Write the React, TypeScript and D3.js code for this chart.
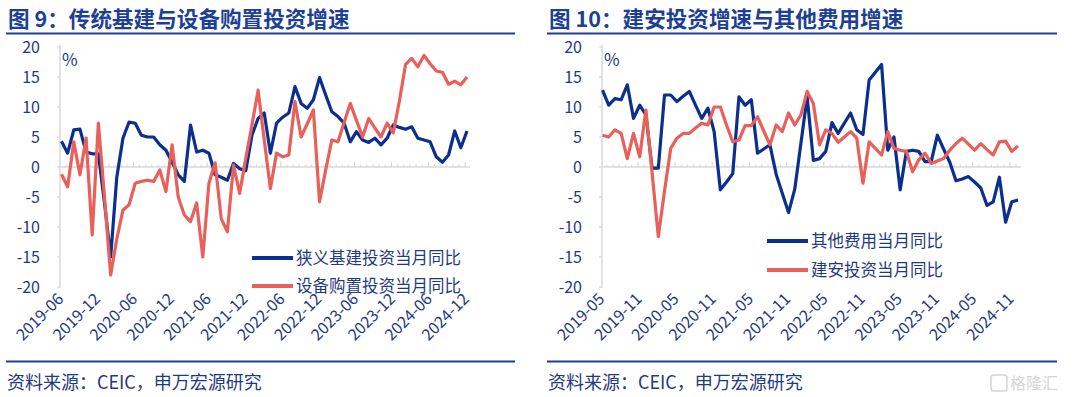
import React from 'react';
import * as d3 from 'd3';

// ---------- data ----------
const leftLabels = ['2019-06','2019-12','2020-06','2020-12','2021-06','2021-12','2022-06','2022-12','2023-06','2023-12','2024-06','2024-12'];
const rightLabels = ['2019-05','2019-11','2020-05','2020-11','2021-05','2021-11','2022-05','2022-11','2023-05','2023-11','2024-05','2024-11'];
const yTicks = [20, 15, 10, 5, 0, -5, -10, -15, -20];

// 狭义基建投资当月同比 (2019-06 .. 2024-12)
const infraYoY = [
  4.3, 2.3, 6.2, 6.3, 2.5, 2.2, 2.2, -6, -15, -1.7,
  4.8, 7.5, 7.3, 5.3, 5, 5, 3.7, 2.8, 0.8, -1.3,
  -2.4, 7, 2.5, 2.8, 2.3, -1.3, -1.7, -2.2, 0.6, -0.3,
  -0.6, 5.3, 8.1, 9, 2.3, 7.3, 8.3, 9, 13.4, 10.6,
  9.8, 11.2, 14.9, 12, 9.2, 8.4, 7.3, 4.2, 5.9, 4.5,
  4.1, 4.8, 3.7, 4.8, 7, 6.6, 6.3, 6.7, 4.8, 4.5,
  4.2, 1.7, 0.8, 2, 6, 3.2, 6,
];
// 设备购置投资当月同比 (2019-06 .. 2024-12)
const equipYoY = [
  -1.2, -3.3, 4.2, -1.3, 4.8, -11.3, 7.3, -5, -18, -12,
  -7.2, -6.3, -2.7, -2.4, -2.2, -2.4, -0.5, -4.1, 3.7, -5,
  -8, -9.1, -6, -15, -2.7, 0.7, -8.6, -10.8, 0.3, -4.4,
  1.5, 7, 12.8, 4.5, -3.6, 2.3, 1.7, 2, 10.9, 5,
  7.2, 9.5, -5.8, -0.5, 4.5, 4.2, 7.4, 10.6, 7.8, 5,
  8.1, 6.5, 5, 7.3, 5.7, 11, 17.1, 18.1, 16.7, 18.6,
  17.2, 16, 15.8, 13.8, 14.3, 13.7, 15,
];
// 其他费用当月同比 (2019-05 .. 2024-12)
const otherYoY = [
  12.8, 10.3, 11.4, 11.2, 13.7, 8.1, 10.3, 8.7, -0.2, -0.2,
  12, 12, 10.9, 11.8, 12.6, 10.3, 8.1, 9.8, 5.9, -3.8,
  -2.5, -1.1, 11.7, 10.3, 11.2, 2.3, 3, 3.7, -1.2, -4.4,
  -7.6, -3.7, 4, 11.7, 1.1, 1.4, 2.6, 7.4, 5.6, 7.3,
  9, 6.2, 5.4, 14.5, 15.8, 17.1, 2.8, 5, -3.8, 2.6,
  2.8, 2.6, 0.9, 0.9, 5.3, 3, 0.8, -2.3, -2, -1.6,
  -2.5, -3.5, -6.4, -5.8, -1.7, -9.2, -5.8, -5.5,
];
// 建安投资当月同比 (2019-05 .. 2024-12)
const constrYoY = [
  5.3, 5, 6.2, 5.6, 1.4, 5.6, 1.7, 9.5, -1, -11.6,
  -4, 3.1, 4.8, 5.6, 5.6, 6.5, 7.3, 7, 10, 10,
  7, 4.2, 4.5, 6.9, 6.9, 8.4, 6, 3.7, 7, 5.9,
  9, 7, 8.7, 12.6, 10.6, 3.7, 6.2, 5.6, 4.1, 5,
  5.9, 4.8, -2.7, 4.2, 3.1, 2, 5.9, 3.1, 2.8, 2.6,
  -0.8, 1.2, 2.3, 0.6, 1, 1.4, 2.8, 3.9, 4.8, 3.8,
  2.8, 3.9, 2.9, 2, 4.2, 4.3, 2.6, 3.5,
];

const BLUE = '#0a2f8f';
const RED = '#e95f5a';
const TEXT = '#1f3a85';
const TITLE = '#1d3f95';
const AXIS = '#d9d9d9';
const FONT = '"Noto Sans CJK SC", "Noto Sans", sans-serif';

interface Series { name: string; values: number[]; color: string; }

interface PanelProps {
  title: string;
  left: number;
  right: number;
  axisX: number;
  axisEnd: number;
  xStart: number;
  xEnd: number;
  labels: string[];
  series: Series[];
  legendX: number;
  legendY: number[];
}

const yScale = d3.scaleLinear().domain([-20, 20]).range([287, 47]);

function Panel(p: PanelProps) {
  const n = p.series[0].values.length;
  const x = d3.scaleLinear().domain([0, n - 1]).range([p.xStart, p.xEnd]);
  const y0 = yScale(0);
  const line = d3.line<number>().x((_, i) => x(i)).y((d) => yScale(d));
  const ticks: { pos: number; major: boolean }[] = [];
  for (let k = 0; k <= n; k++) {
    const pos = x(k - 0.3);
    if (pos > p.axisX + 1 && pos < p.axisEnd) ticks.push({ pos, major: k % 6 === 0 });
  }
  return (
    <g>
      <text x={p.left + 1} y={27} fontSize={21.6} fontWeight={700} fill={TITLE} fontFamily={FONT}>{p.title}</text>
      <line x1={p.left - 1} x2={p.right} y1={33.5} y2={33.5} stroke={TITLE} strokeWidth={2} />
      <line x1={p.axisX} x2={p.axisX} y1={45} y2={288} stroke={AXIS} strokeWidth={1.5} />
      {yTicks.map((t) => (
        <g key={t}>
          <line x1={p.axisX - 3} x2={p.axisX} y1={yScale(t)} y2={yScale(t)} stroke={AXIS} strokeWidth={1.2} />
          <text x={p.axisX - 20} y={yScale(t)} dy="0.36em" textAnchor="end" fontSize={16} fill={TEXT} fontFamily={FONT}>{t}</text>
        </g>
      ))}
      <text x={p.axisX + 2} y={66} fontSize={17} fill={TEXT} fontFamily={FONT}>%</text>
      <line x1={p.axisX} x2={p.axisEnd} y1={y0} y2={y0} stroke={AXIS} strokeWidth={1.5} />
      {ticks.map((t, i) => (
        <line key={i} x1={t.pos} x2={t.pos} y1={t.major ? y0 - 5 : y0 - 2.5} y2={y0} stroke={AXIS} strokeWidth={1.2} />
      ))}
      {p.labels.map((lab, i) => {
        const xx = x(i * 6) + 3;
        const yy = 300;
        return (
          <text key={lab} x={xx} y={yy} textAnchor="end" fontSize={16} fill={TEXT} fontFamily={FONT}
            transform={`rotate(-45 ${xx} ${yy})`}>{lab}</text>
        );
      })}
      {p.series.map((s) => (
        <path key={s.name} d={line(s.values) || ''} fill="none" stroke={s.color} strokeWidth={3.2} strokeLinejoin="round" />
      ))}
      {p.series.map((s, i) => (
        <g key={s.name}>
          <line x1={p.legendX} x2={p.legendX + 41} y1={p.legendY[i]} y2={p.legendY[i]} stroke={s.color} strokeWidth={4} />
          <text x={p.legendX + 44} y={p.legendY[i]} dy="0.36em" fontSize={16.5} fill={TEXT} fontFamily={FONT}>{s.name}</text>
        </g>
      ))}
      <line x1={p.left - 1} x2={p.right} y1={361.5} y2={361.5} stroke={TITLE} strokeWidth={2} />
      <text x={p.left} y={389} fontSize={18} fill={TEXT} fontFamily={FONT}>资料来源：CEIC，申万宏源研究</text>
    </g>
  );
}

export default function App() {
  return (
    <svg width={1080} height={397} style={{ position: 'absolute', left: 0, top: 0, background: '#fff' }}>
      <rect width={1080} height={397} fill="#fff" />
      <Panel
        title="图 9：传统基建与设备购置投资增速"
        left={7} right={515}
        axisX={60} axisEnd={470}
        xStart={61.5} xEnd={467}
        labels={leftLabels}
        series={[
          { name: '狭义基建投资当月同比', values: infraYoY, color: BLUE },
          { name: '设备购置投资当月同比', values: equipYoY, color: RED },
        ]}
        legendX={252} legendY={[258, 286]}
      />
      <Panel
        title="图 10：建安投资增速与其他费用增速"
        left={548} right={1057}
        axisX={602} axisEnd={1021}
        xStart={602.5} xEnd={1018}
        labels={rightLabels}
        series={[
          { name: '其他费用当月同比', values: otherYoY, color: BLUE },
          { name: '建安投资当月同比', values: constrYoY, color: RED },
        ]}
        legendX={767} legendY={[241, 270]}
      />
      <g opacity={0.35}>
        <rect x={991} y={375} width={16} height={16} rx={3} fill="none" stroke="#888" strokeWidth={1.5} />
        <text x={1010} y={389} fontSize={16} fill="#888" fontFamily={FONT}>格隆汇</text>
      </g>
    </svg>
  );
}
